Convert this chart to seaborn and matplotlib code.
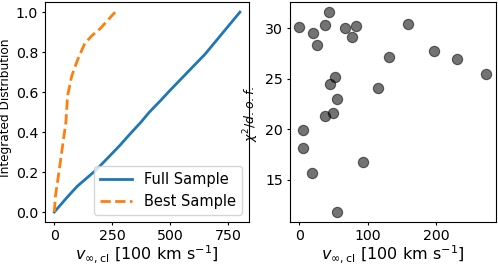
import numpy as np
import pandas as pd
import seaborn as sns
import matplotlib
matplotlib.use("Agg")
import matplotlib.pyplot as plt

# cumulative distributions (left panel)
full_v = [0, 30, 60, 100, 130, 180, 230, 280, 330, 370, 410, 460, 500, 550, 600, 650, 700, 750, 800]
full_cdf = [0, 0.04, 0.08, 0.13, 0.16, 0.21, 0.27, 0.33, 0.395, 0.445, 0.50, 0.56, 0.61,
            0.67, 0.73, 0.79, 0.86, 0.93, 1.0]
best_v = [0, 5, 20, 38, 50, 57, 75, 100, 130, 160, 200, 262]
best_cdf = [0, 0.08, 0.2, 0.35, 0.45, 0.58, 0.68, 0.76, 0.84, 0.88, 0.92, 1.0]

# best sample, chi2 per dof vs velocity (right panel)
v_cl = [0, 19.5, 25.4, 37.6, 42.9, 66.3, 82.9, 76.6, 158, 197, 230, 272.7,
        131.7, 114.6, 52.2, 44.9, 55.6, 37.6, 49.8, 5.9, 5.9, 18, 93.7, 54.6]
chi2_dof = [30.17, 29.5, 28.3, 30.3, 31.6, 30.07, 30.27, 29.1, 30.46, 27.74, 27.0, 25.5,
            27.2, 24.1, 25.2, 24.5, 23.0, 21.3, 21.6, 19.9, 18.1, 15.7, 16.8, 11.8]

xlabel = r"$v_{\infty,\rm cl}$ [100 km s$^{-1}$]"

fig = plt.figure(figsize=(4.98, 2.64), dpi=100)
ax1 = fig.add_axes([0.0904, 0.159, 0.410, 0.833])
ax2 = fig.add_axes([0.582, 0.159, 0.413, 0.833])

sns.lineplot(x=full_v, y=full_cdf, ax=ax1, color="#1f77b4", lw=2, label="Full Sample")
sns.lineplot(x=best_v, y=best_cdf, ax=ax1, color="#ff7f0e", lw=2, linestyle="--",
             label="Best Sample")
ax1.set_xticks([0, 250, 500, 750])
ax1.set_yticks([0.0, 0.2, 0.4, 0.6, 0.8, 1.0])
ax1.set_xlabel(xlabel, fontsize=11.5, labelpad=0)
ax1.set_ylabel("Integrated Distribution", fontsize=8.7)
ax1.yaxis.set_label_coords(-0.16, 0.52)
ax1.legend(loc="lower right", fontsize=10.5, handlelength=2.2)

sns.scatterplot(x=v_cl, y=chi2_dof, ax=ax2, color="k", alpha=0.55, s=55, edgecolor="k",
                linewidth=0.8)
ax2.set_xticks([0, 100, 200])
ax2.set_yticks([15, 20, 25, 30])
ax2.set_xlabel(xlabel, fontsize=11.5, labelpad=0)
ax2.set_ylabel(r"$\chi^2/d.o.f.$", fontsize=9)
ax2.yaxis.set_label_coords(-0.142, 0.49)

for ax in (ax1, ax2):
    ax.tick_params(labelsize=10.2, length=2.5, pad=2.5)

fig.savefig("out.png", dpi=100)
